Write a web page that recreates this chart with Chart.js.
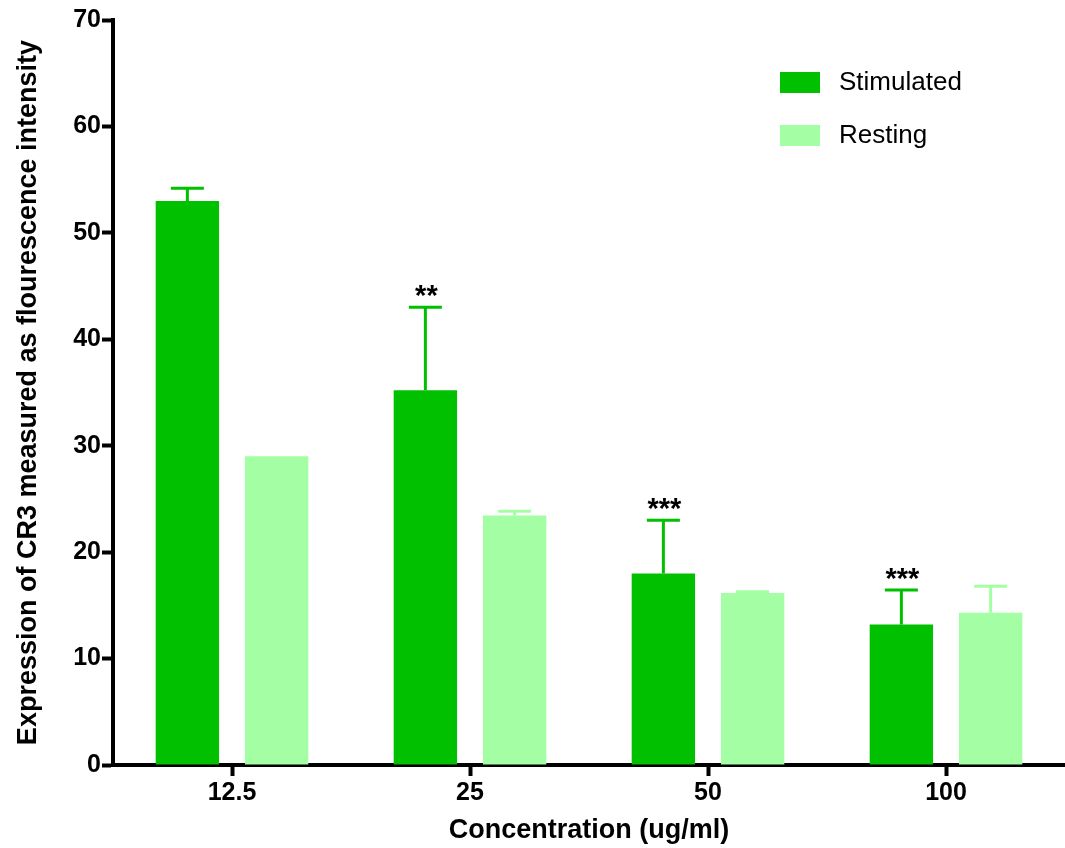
<!DOCTYPE html>
<html>
<head>
<meta charset="utf-8">
<script src="https://cdn.jsdelivr.net/npm/chart.js@4/dist/chart.umd.min.js"></script>
<style>
  html, body { margin: 0; padding: 0; background: #fff; }
  #wrap { width: 1065px; height: 848px; }
</style>
</head>
<body>
<div id="wrap"><canvas id="c" width="1065" height="848"></canvas></div>
<script>
const categories = ['12.5', '25', '50', '100'];
const stimulated = [53.0, 35.2, 18.0, 13.2];
const stimulatedErr = [1.2, 7.8, 5.0, 3.25];
const resting = [29.0, 23.45, 16.15, 14.3];
const restingErr = [0, 0.4, 0.12, 2.5];
const significance = ['', '**', '***', '***'];
const yTicks = [0, 10, 20, 30, 40, 50, 60, 70];

const STIM_COLOR = '#00C000';
const REST_COLOR = '#A4FFA4';
const FONT = "'Liberation Sans', Arial, sans-serif";

const errorBarPlugin = {
  id: 'errorBars',
  afterDatasetsDraw(chart) {
    const ctx = chart.ctx;
    const y = chart.scales.y;
    chart.data.datasets.forEach((ds, di) => {
      const meta = chart.getDatasetMeta(di);
      meta.data.forEach((bar, i) => {
        const err = ds.errors[i];
        if (!err) return;
        const top = y.getPixelForValue(ds.data[i] + err);
        const base = y.getPixelForValue(ds.data[i]);
        ctx.save();
        ctx.strokeStyle = ds.backgroundColor;
        ctx.lineWidth = 3;
        ctx.beginPath();
        ctx.moveTo(bar.x, base);
        ctx.lineTo(bar.x, top);
        ctx.moveTo(bar.x - 16.5, top);
        ctx.lineTo(bar.x + 16.5, top);
        ctx.stroke();
        ctx.restore();
        if (ds.sig && ds.sig[i]) {
          ctx.save();
          ctx.fillStyle = '#000';
          ctx.font = "bold 29px " + FONT;
          ctx.textAlign = 'center';
          ctx.textBaseline = 'alphabetic';
          ctx.fillText(ds.sig[i], bar.x + 1, top - 2);
          ctx.restore();
        }
      });
    });
  }
};

const legendPlugin = {
  id: 'customLegend',
  afterDraw(chart) {
    const ctx = chart.ctx;
    const x0 = 780, y0 = 72, gap = 53;
    chart.data.datasets.forEach((ds, i) => {
      const yy = y0 + i * gap;
      ctx.save();
      ctx.fillStyle = ds.backgroundColor;
      ctx.fillRect(x0, yy, 40, 21);
      ctx.fillStyle = '#000';
      ctx.font = "26px " + FONT;
      ctx.textAlign = 'left';
      ctx.textBaseline = 'middle';
      ctx.fillText(ds.label, x0 + 59, yy + 11);
      ctx.restore();
    });
  }
};

new Chart(document.getElementById('c'), {
  type: 'bar',
  data: {
    labels: categories,
    datasets: [
      { label: 'Stimulated', data: stimulated, errors: stimulatedErr, sig: significance,
        backgroundColor: STIM_COLOR, borderWidth: 0,
        categoryPercentage: 0.75, barPercentage: 0.71 },
      { label: 'Resting', data: resting, errors: restingErr,
        backgroundColor: REST_COLOR, borderWidth: 0,
        categoryPercentage: 0.75, barPercentage: 0.71 }
    ]
  },
  options: {
    responsive: false,
    animation: false,
    layout: { padding: { top: 20, right: 0, left: 0, bottom: 0 } },
    plugins: { legend: { display: false }, tooltip: { enabled: false } },
    scales: {
      x: {
        afterFit(scale) { scale.height = 83; },
        border: { display: true, color: '#000', width: 4 },
        grid: { display: true, drawOnChartArea: false, drawTicks: true, tickLength: 11, tickWidth: 4, tickColor: '#000', offset: false },
        ticks: { color: '#000', font: { family: FONT, size: 25, weight: 'bold' }, padding: 2 },
        title: { display: true, text: 'Concentration (ug/ml)', color: '#000',
                 font: { family: FONT, size: 27, weight: 'bold' }, padding: { top: 0, bottom: 1 } }
      },
      y: {
        min: 0, max: 70,
        afterFit(scale) { scale.width = 113; },
        afterBuildTicks(scale) { scale.ticks = yTicks.map(v => ({ value: v })); },
        border: { display: true, color: '#000', width: 4 },
        grid: { display: true, drawOnChartArea: false, drawTicks: true, tickLength: 11, tickWidth: 4, tickColor: '#000' },
        ticks: { color: '#000', font: { family: FONT, size: 25, weight: 'bold' }, padding: 1 },
        title: { display: true, text: 'Expression of CR3 measured as flourescence intensity', color: '#000',
                 font: { family: FONT, size: 27, weight: 'bold' }, padding: { top: 12, bottom: 0 } }
      }
    }
  },
  plugins: [errorBarPlugin, legendPlugin]
});
</script>
</body>
</html>
